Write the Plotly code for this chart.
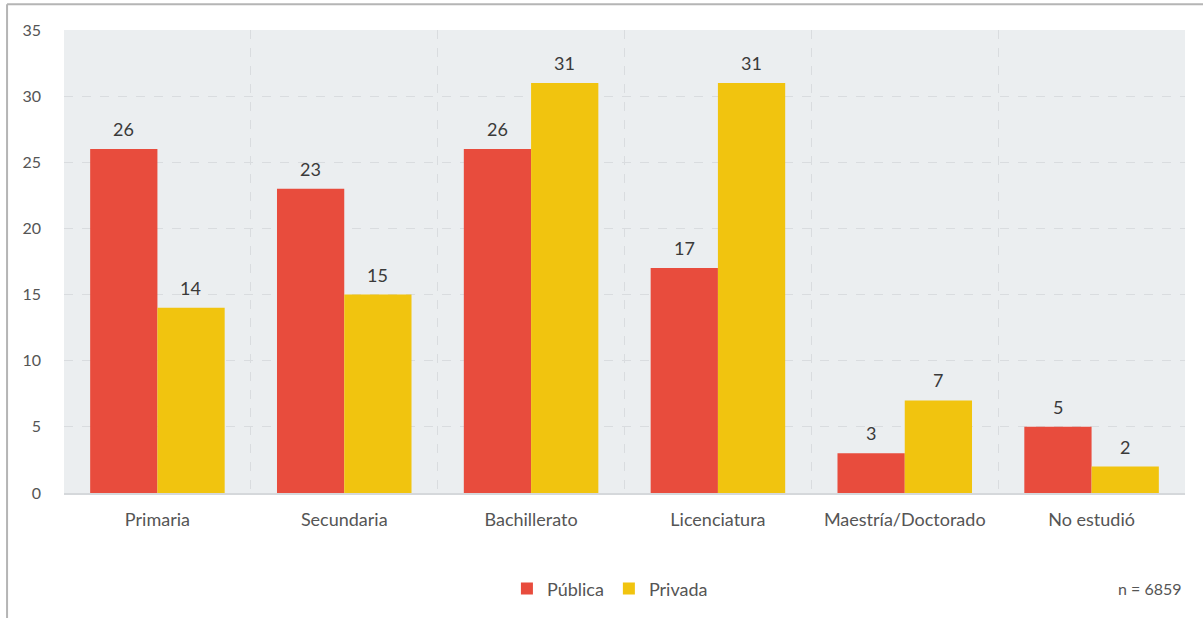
import plotly.graph_objects as go

categorias = ["Primaria", "Secundaria", "Bachillerato", "Licenciatura",
              "Maestría/Doctorado", "No estudió"]
publica = [26, 23, 26, 17, 3, 5]
privada = [14, 15, 31, 31, 7, 2]
muestra = "n = 6859"

ROJO = "#E84C3D"
AMARILLO = "#F1C40F"
FUENTE = "Lato, 'Open Sans', sans-serif"

fig = go.Figure()
fig.add_trace(go.Bar(name="Pública", x=categorias, y=publica,
                     marker=dict(color=ROJO, line=dict(width=0))))
fig.add_trace(go.Bar(name="Privada", x=categorias, y=privada,
                     marker=dict(color=AMARILLO, line=dict(width=0))))

# value labels above each bar
for serie, shift in ((publica, -33.5), (privada, 33.5)):
    for cat, val in zip(categorias, serie):
        fig.add_annotation(x=cat, y=val, text=str(val), showarrow=False,
                           xshift=shift, yshift=20,
                           font=dict(family=FUENTE, size=18, color="#3a3a3a"))

fig.add_annotation(xref="paper", yref="paper", x=0.999, y=-0.207,
                   xanchor="right", yanchor="middle", showarrow=False,
                   text=muestra, font=dict(family=FUENTE, size=16, color="#555"))

# outer frame (top and left edges)
fig.add_shape(type="line", xref="paper", yref="paper",
              x0=-0.0508, x1=1.02, y0=1.0557, y1=1.0557,
              line=dict(color="#b5b5b5", width=2))
fig.add_shape(type="line", xref="paper", yref="paper",
              x0=-0.0508, x1=-0.0508, y0=1.0557, y1=-0.27,
              line=dict(color="#b5b5b5", width=2))

fig.update_layout(
    width=1203, height=619,
    margin=dict(l=64, r=18, t=30, b=120),
    barmode="group", bargap=0.28, bargroupgap=0,
    plot_bgcolor="#EBEEF0", paper_bgcolor="white",
    font=dict(family=FUENTE, color="#555"),
    legend=dict(orientation="h", x=0.487, xanchor="center", y=-0.207,
                yanchor="middle", font=dict(family=FUENTE, size=18, color="#555"),
                itemwidth=30, traceorder="normal"),
    xaxis=dict(tickson="boundaries", showgrid=True, gridcolor="#d9dcdf",
               griddash="dash", gridwidth=1, showline=True, linecolor="#d5d8db",
               linewidth=2, ticks="", ticklabelstandoff=9, automargin=False,
               tickfont=dict(family=FUENTE, size=18, color="#555")),
    yaxis=dict(range=[0, 35], dtick=5, showgrid=True, gridcolor="#d9dcdf",
               griddash="dash", gridwidth=1, zeroline=False, ticks="",
               ticklabelstandoff=22, automargin=False,
               tickfont=dict(family=FUENTE, size=16, color="#555")),
)

fig.write_html("out.html")
